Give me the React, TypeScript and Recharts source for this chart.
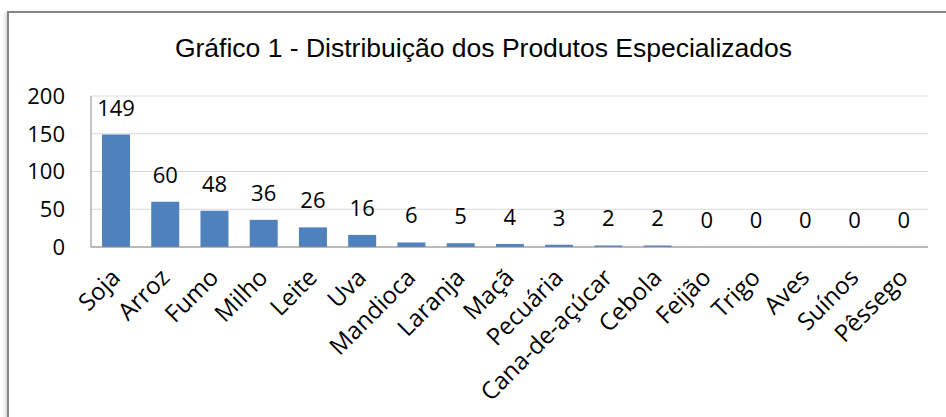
import { Bar, BarChart, CartesianGrid, LabelList, XAxis, YAxis } from 'recharts'

const produtos = [
  'Soja', 'Arroz', 'Fumo', 'Milho', 'Leite', 'Uva', 'Mandioca', 'Laranja', 'Maçã',
  'Pecuária', 'Cana-de-açúcar', 'Cebola', 'Feijão', 'Trigo', 'Aves', 'Suínos', 'Pêssego',
]
const quantidades = [149, 60, 48, 36, 26, 16, 6, 5, 4, 3, 2, 2, 0, 0, 0, 0, 0]
const yTicks = [0, 50, 100, 150, 200]

const data = produtos.map((nome, i) => ({ nome, valor: quantidades[i] }))

const FONT = '"Open Sans", sans-serif'

function AngledTick({ x, y, payload }: any) {
  const tx = x + 6
  const ty = y + 30
  return (
    <text
      x={tx}
      y={ty}
      transform={`rotate(-45, ${tx}, ${ty})`}
      textAnchor="end"
      fontFamily={FONT}
      fontSize={24}
      fill="#000"
    >
      {payload.value}
    </text>
  )
}

export default function App() {
  return (
    <div style={{ position: 'absolute', left: 0, top: 0, width: 946, height: 417, overflow: 'hidden', background: '#fff' }}>
      <div
        style={{
          position: 'absolute',
          left: 7,
          top: 11,
          width: 1000,
          height: 500,
          border: '2px solid #868686',
          boxShadow: '-2px 1px 3px rgba(0,0,0,0.15)',
        }}
      />
      <div
        style={{
          position: 'absolute',
          left: 0,
          top: 35,
          width: 967,
          textAlign: 'center',
          fontFamily: '"Liberation Sans", Arial, sans-serif',
          fontSize: 26.5,
          lineHeight: '26px',
          color: '#000',
        }}
      >
        Gráfico 1 - Distribuição dos Produtos Especializados
      </div>
      <div style={{ position: 'absolute', left: 0, top: 0 }}>
        <BarChart
          width={946}
          height={417}
          data={data}
          margin={{ top: 96, right: 18, bottom: 0, left: 0 }}
          barSize={28}
        >
          <CartesianGrid vertical={false} stroke="#d9d9d9" />
          <XAxis
            dataKey="nome"
            interval={0}
            height={170}
            tickSize={0}
            tickLine={false}
            axisLine={{ stroke: '#868686' }}
            tick={<AngledTick />}
          />
          <YAxis
            width={91}
            domain={[0, 200]}
            ticks={yTicks}
            interval={0}
            tickSize={0}
            tickMargin={26}
            tickLine={false}
            axisLine={{ stroke: '#868686' }}
            tick={{ fill: '#000', fontFamily: FONT, fontSize: 22 }}
          />
          <Bar dataKey="valor" fill="#4f81bd" minPointSize={0.01} isAnimationActive={false}>
            <LabelList
              dataKey="valor"
              position="top"
              offset={19}
              fill="#000"
              fontFamily={FONT}
              fontSize={22}
            />
          </Bar>
        </BarChart>
      </div>
    </div>
  )
}
